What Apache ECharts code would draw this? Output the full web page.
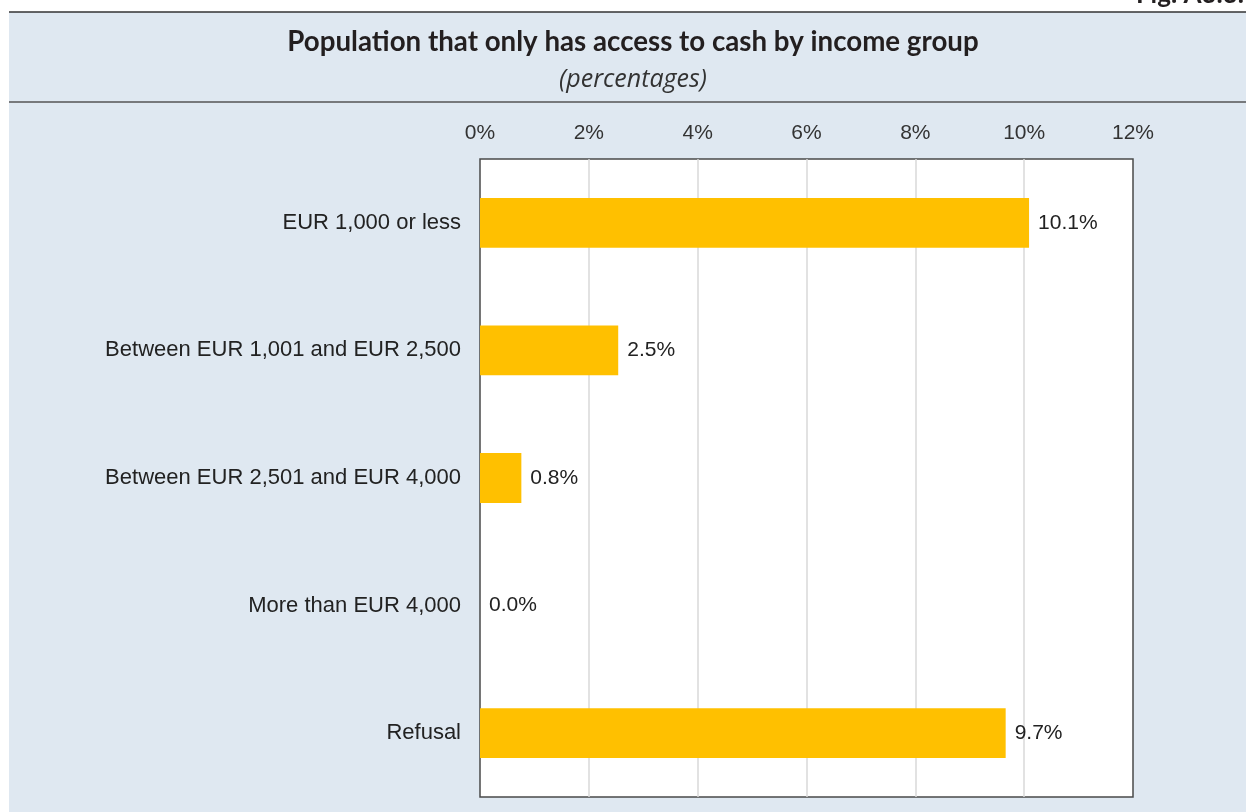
<!DOCTYPE html>
<html>
<head>
<meta charset="utf-8">
<script src="https://cdn.jsdelivr.net/npm/echarts@6/dist/echarts.min.js"></script>
<style>
html,body{margin:0;padding:0;background:#ffffff;}
#chart{width:1246px;height:812px;}
</style>
</head>
<body>
<div id="chart"></div>
<script>
const categories = ["EUR 1,000 or less", "Between EUR 1,001 and EUR 2,500", "Between EUR 2,501 and EUR 4,000", "More than EUR 4,000", "Refusal"];
const values = [10.09, 2.54, 0.76, 0.0, 9.66];
const titleText = "Population that only has access to cash by income group";
const subtitleText = "(percentages)";
const figText = "Fig. A3.3.";

const chart = echarts.init(document.getElementById('chart'), null, {renderer: 'canvas'});
const labelFont = 'Arial';
const titleFont = 'Lato';

chart.setOption({
  animation: false,
  backgroundColor: '#ffffff',
  graphic: [
    {type: 'rect', z: -10, silent: true, shape: {x: 9, y: 12, width: 1237, height: 800}, style: {fill: '#dfe8f1'}},
    {type: 'line', z: 10, silent: true, shape: {x1: 9, y1: 12, x2: 1246, y2: 12}, style: {stroke: '#333333', lineWidth: 1.5}},
    {type: 'line', z: 10, silent: true, shape: {x1: 9, y1: 102, x2: 1246, y2: 102}, style: {stroke: '#555555', lineWidth: 1.5}},
    {type: 'text', z: 10, silent: true, x: 633, y: 42, style: {text: titleText, fill: '#231f20', font: 'bold 27.7px ' + titleFont, textAlign: 'center', textVerticalAlign: 'middle'}},
    {type: 'text', z: 10, silent: true, x: 633, y: 80, style: {text: subtitleText, fill: '#333333', font: 'italic 25px "Open Sans"', textAlign: 'center', textVerticalAlign: 'middle'}},
    {type: 'text', z: 10, silent: true, x: 1244, y: -5, style: {text: figText, fill: '#231f20', font: 'bold 26px ' + titleFont, textAlign: 'right', textVerticalAlign: 'middle'}}
  ],
  grid: {
    left: 480, right: 113, top: 159, bottom: 15,
    show: true, backgroundColor: '#ffffff', borderColor: '#4a4a4a', borderWidth: 1.5,
    containLabel: false
  },
  xAxis: {
    type: 'value', position: 'top', min: 0, max: 12, interval: 2,
    axisLine: {show: false}, axisTick: {show: false},
    axisLabel: {formatter: '{value}%', color: '#333333', fontFamily: labelFont, fontSize: 21, margin: 15},
    splitLine: {show: true, showMinLine: false, showMaxLine: false, lineStyle: {color: '#d9d9d9', width: 1.5}}
  },
  yAxis: {
    type: 'category', data: categories, inverse: true,
    axisLine: {show: false}, axisTick: {show: false},
    axisLabel: {color: '#222222', fontFamily: labelFont, fontSize: 22, margin: 19},
    splitLine: {show: false}
  },
  series: [{
    type: 'bar', data: values, barWidth: '39%',
    itemStyle: {color: '#ffc000'},
    label: {show: true, position: 'right', distance: 9, color: '#222222', fontFamily: labelFont, fontSize: 21,
      formatter: p => p.value.toFixed(1) + '%'}
  }]
});
</script>
</body>
</html>
